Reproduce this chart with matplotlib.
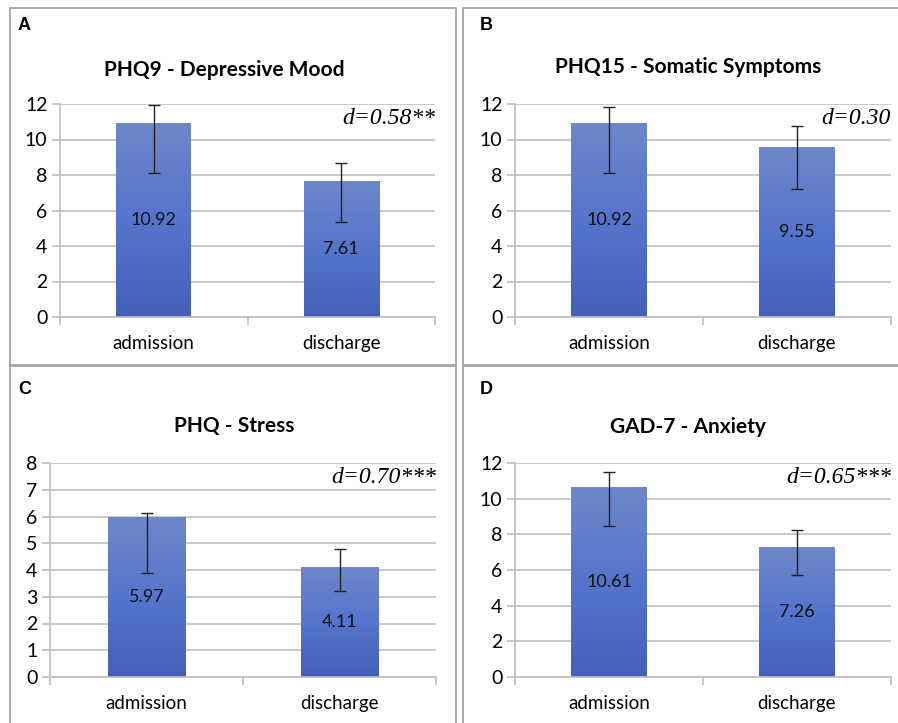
import numpy as np
import matplotlib
matplotlib.use('Agg')
import matplotlib.pyplot as plt
from matplotlib.patches import Rectangle
from matplotlib.colors import LinearSegmentedColormap

# data
categories = ['admission', 'discharge']
panel_tags = ['A', 'B', 'C', 'D']
titles = ['PHQ9 - Depressive Mood', 'PHQ15 - Somatic Symptoms', 'PHQ - Stress', 'GAD-7 - Anxiety']
means = [[10.92, 7.61], [10.92, 9.55], [5.97, 4.11], [10.61, 7.26]]
err_low = [[8.10, 5.33], [8.13, 7.23], [3.88, 3.21], [8.45, 5.72]]
err_high = [[11.93, 8.68], [11.85, 10.74], [6.12, 4.79], [11.51, 8.26]]
effect = ['d=0.58**', 'd=0.30', 'd=0.70***', 'd=0.65***']
ymax = [12, 12, 8, 12]
ystep = [2, 2, 1, 2]

W, H = 898, 723
fig = plt.figure(figsize=(W / 100, H / 100), dpi=100)

# pixel boxes: axes (left, top, right, bottom), title centre, tag pos, panel border
ax_px = [(60, 104, 435, 317), (515, 104, 891, 317), (50, 463, 436, 677), (515, 463, 891, 677)]
title_px = [(224, 70), (688, 67), (234, 426), (688, 427)]
tag_px = [(18, 25), (480, 25), (18, 390), (480, 390)]
border_px = [(10, 8, 456, 365), (463, 8, 905, 365), (10, 366, 456, 730), (463, 366, 905, 730)]

grad = LinearSegmentedColormap.from_list('g', ['#4461B9', '#5574CC', '#6E87C9'])
grid_c = '#BFBFBF'

for i in range(4):
    bx0, by0, bx1, by1 = border_px[i]
    fig.patches.append(Rectangle((bx0 / W, 1 - by1 / H), (bx1 - bx0) / W, (by1 - by0) / H,
                                 transform=fig.transFigure, fill=False, ec='#A6A6A6', lw=1.3))

    l, t, r, b = ax_px[i]
    ax = fig.add_axes([l / W, 1 - b / H, (r - l) / W, (b - t) / H])
    x = np.arange(len(categories))
    bars = ax.bar(x, means[i], width=0.4, color='none', zorder=2)
    for rect in bars:
        x0, w, h = rect.get_x(), rect.get_width(), rect.get_height()
        ax.imshow(np.linspace(0, 1, 100).reshape(-1, 1), cmap=grad, aspect='auto',
                  extent=[x0, x0 + w, 0, h], origin='lower', zorder=2)
    m = np.array(means[i])
    yerr = [m - np.array(err_low[i]), np.array(err_high[i]) - m]
    ax.errorbar(x, m, yerr=yerr, fmt='none', ecolor='#222222', elinewidth=1.0,
                capsize=4, capthick=1.0, zorder=3)
    for xi, v in zip(x, means[i]):
        ax.text(xi, v / 2, f'{v:.2f}', ha='center', va='center', fontsize=13,
                family='Lato', color='#111111', zorder=4)

    ax.set_xlim(-0.5, 1.5)
    ax.set_ylim(0, ymax[i])
    ax.set_yticks(np.arange(0, ymax[i] + 0.1, ystep[i]))
    ax.grid(axis='y', color=grid_c, lw=1.2, zorder=0)
    ax.set_axisbelow(True)
    for s in ['top', 'right']:
        ax.spines[s].set_visible(False)
    for s in ['left', 'bottom']:
        ax.spines[s].set_color(grid_c)
        ax.spines[s].set_linewidth(1.2)
    ax.set_xticks(x)
    ax.set_xticklabels(categories)
    ax.set_xticks([-0.5, 0.5, 1.5], minor=True)
    ax.tick_params(axis='x', which='major', length=0, pad=13, labelsize=13.5)
    ax.tick_params(axis='x', which='minor', length=6, color=grid_c, width=1.2)
    ax.tick_params(axis='y', length=6, color=grid_c, width=1.2, pad=3, labelsize=14)
    for lab in ax.get_xticklabels() + ax.get_yticklabels():
        lab.set_family('Lato')

    ax.text(1.0, 0.93, effect[i], transform=ax.transAxes, ha='right', va='center',
            fontsize=17, family='Liberation Serif', style='italic', zorder=5)

    tx, ty = title_px[i]
    fig.text(tx / W, 1 - ty / H, titles[i], ha='center', va='center',
             fontsize=15, fontweight='bold', family='Lato')
    gx, gy = tag_px[i]
    fig.text(gx / W, 1 - gy / H, panel_tags[i], ha='left', va='center',
             fontsize=13, fontweight='bold', family='Liberation Sans')

fig.savefig('out.png', dpi=100)
